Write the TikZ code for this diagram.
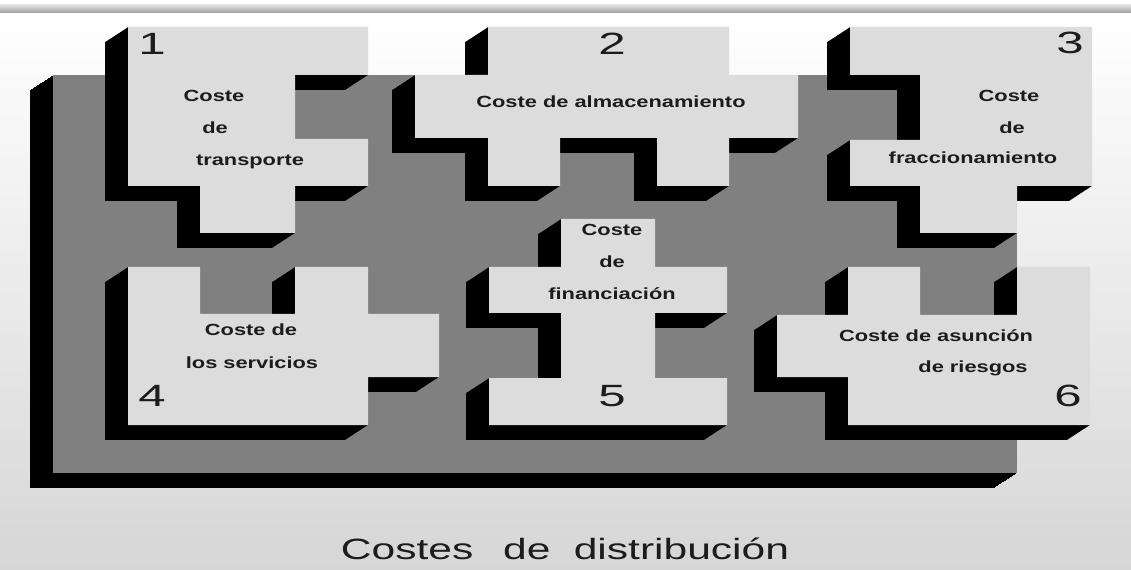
\documentclass[tikz,border=0pt]{standalone}
\usepackage{fontspec}
\setmainfont{Liberation Sans}
\definecolor{face}{HTML}{DCDCDC}
\definecolor{board}{HTML}{808080}
\definecolor{ink}{HTML}{1C1C1C}
\definecolor{paper}{HTML}{D6D6D6}

\newcommand\slab[2]{%
  \foreach \st in {1,...,46}
    \fill[black,shift={(-0.5*\st,0.326*\st)}] #2;
  \fill[#1] #2;}

\begin{document}
\begin{tikzpicture}[x=0.02cm,y=-0.02cm,
   lbl/.style={font=\bfseries\fontsize{9.2}{11}\selectfont,text=ink,anchor=base,inner sep=0pt,xscale=1.35,transform shape},
   num/.style={font=\fontsize{17.5}{20}\selectfont,text=ink,anchor=base,inner sep=0pt,xscale=1.6,transform shape}]
   \useasboundingbox (0,0) rectangle (1131,570);
   \fill[white] (0,0) rectangle (1131,570);
   \shade[top color=white,bottom color=paper] (0,13) rectangle (1131,570);
   \shade[top color=gray!25,bottom color=gray!75] (0,5) rectangle (1131,13);

   \slab{board}{(53,75) rectangle (1017,473)}

   \slab{face}{(128,27) -- (368,27) -- (368,75) -- (295,75) -- (295,139) -- (368,139) -- (368,186) -- (295,186) -- (295,233) -- (200,233) -- (200,186) -- (128,186) -- cycle}
   \slab{face}{(488,27) -- (729,27) -- (729,75) -- (798,75) -- (798,138) -- (729,138) -- (729,186) -- (657,186) -- (657,138) -- (560,138) -- (560,186) -- (488,186) -- (488,138) -- (415,138) -- (415,75) -- (488,75) -- cycle}
   \slab{face}{(850,27) -- (1092,27) -- (1092,186) -- (1017,186) -- (1017,233) -- (920,233) -- (920,186) -- (850,186) -- (850,140) -- (920,140) -- (920,75) -- (850,75) -- cycle}
   \slab{face}{(128,267) -- (200,267) -- (200,314) -- (295,314) -- (295,267) -- (368,267) -- (368,314) -- (439,314) -- (439,377) -- (368,377) -- (368,425) -- (128,425) -- cycle}
   \slab{face}{(561,219) -- (655,219) -- (655,267) -- (727,267) -- (727,313) -- (655,313) -- (655,378) -- (727,378) -- (727,425) -- (489,425) -- (489,378) -- (561,378) -- (561,313) -- (489,313) -- (489,267) -- (561,267) -- cycle}
   \slab{face}{(848,267) -- (920,267) -- (920,315) -- (1017,315) -- (1017,267) -- (1090,267) -- (1090,425) -- (848,425) -- (848,377) -- (777,377) -- (777,315) -- (848,315) -- cycle}

   \node[num] (N1) at (152,55) {1};
   \node[num] (N2) at (612,55) {2};
   \node[num] (N3) at (1070,54) {3};
   \node[num] (N4) at (152,406) {4};
   \node[num] (N5) at (612,406) {5};
   \node[num] (N6) at (1068,406) {6};

   \node[lbl] (T1a) at (214,102) {Coste};
   \node[lbl] (T1b) at (215,134) {de};
   \node[lbl] (T1c) at (250,166) {transporte};
   \node[lbl] (T2)  at (611,108) {Coste de almacenamiento};
   \node[lbl] (T3a) at (1009,102) {Coste};
   \node[lbl] (T3b) at (1012,134) {de};
   \node[lbl] (T3c) at (973,164) {fraccionamiento};
   \node[lbl] (T4a) at (251,336) {Coste de};
   \node[lbl] (T4b) at (252,368) {los servicios};
   \node[lbl] (T5a) at (612,236) {Coste};
   \node[lbl] (T5b) at (612,268) {de};
   \node[lbl] (T5c) at (612,300) {financiación};
   \node[lbl] (T6a) at (936,341) {Coste de asunción};
   \node[lbl] (T6b) at (973,373) {de riesgos};

   \node[anchor=base,inner sep=0pt,text=ink,font=\fontsize{16.7}{20}\selectfont,xscale=1.45,transform shape]
      (title) at (565,559) {Costes\hspace{0.7em}de\hspace{0.55em}distribución};
\end{tikzpicture}
\end{document}
